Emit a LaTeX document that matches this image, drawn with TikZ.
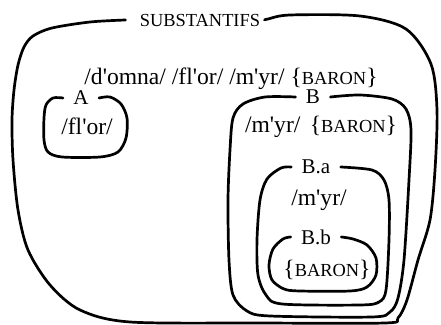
\documentclass[tikz,border=0pt]{standalone}
\usepackage{fontspec}
\setmainfont{Liberation Serif}
\usetikzlibrary{positioning}
\newcommand{\capsw}[1]{{\fontsize{9.2}{11}\selectfont #1}}
\newcommand{\ap}{\textquotesingle}

\begin{document}
\begin{tikzpicture}[
				x=0.5pt, y=-0.5pt,
				setline/.style={
					line width=1.35pt, line join=round, line cap=round
				},
				tag/.style={
					font=\fontsize{10.5}{12}\selectfont,
					inner xsep=5pt, inner ysep=0pt, text depth=0pt
				},
				member/.style={
					font=\fontsize{11.8}{14}\selectfont, inner sep=0pt
				}
				]
				\useasboundingbox (0,0) rectangle (441,325);
				
				% Substantifs
				\node[tag, inner xsep=1pt, font=\fontsize{9.2}{11}\selectfont] (subst) at (200,20) {SUBSTANTIFS};
				\node[member] (all) at (231,79) {/d\ap omna/ /fl\ap or/ /m\ap yr/ \{\capsw{BARON}\}};
				
				% A
				\node[tag] (A) at (81,98) {A};
				\node[member] (Atext) at (87,126) {/fl\ap or/};
				
				% B
				\node[tag] (B) at (313,97) {B};
				\node[member] (Btext) at (321,127) {/m\ap yr/\hspace{0.15em} \{\capsw{BARON}\}};
				
				% B.a
				\node[tag] (Ba) at (316,167) {B.a};
				\node[member] (Batext) at (319,200) {/m\ap yr/};
				
				% B.b
				\node[tag] (Bb) at (316,237) {B.b};
				\node[member] (Bbtext) at (327,270) {\{\capsw{BARON}\}};
				
				% outlines, hand drawn
				\draw[setline] plot[smooth, tension=0.5] coordinates {
					([xshift=-6pt]subst.west) (90,22) (52,28) (33,36) (24,47) (18,65)
					(14,90) (12,120) (13,160) (18,210) (28,250) (50,285) (80,310)
					(130,322) (260,323) (385,323) (398,318) (407,300) (418,260) (430,220)
					(435,170) (437,110) (431,64) (406,29) (360,16) (290,15) (268,19)
					([xshift=1pt]subst.east)};
				\draw[setline] plot[smooth, tension=0.5] coordinates {
					(A.west) (53,98) (46,105) (44,118) (44,140) (48,152) (62,157)
					(100,157) (118,152) (126,138) (127,118) (121,104) (110,97) (A.east)};
				\draw[setline] plot[smooth, tension=0.5] coordinates {
					(B.west) (265,97) (243,104) (233,118) (230,150) (228,200) (229,260)
					(233,295) (247,311) (270,316) (372,317) (390,312) (398,298) (404,260)
					(409,180) (411,130) (406,109) (392,99) (360,95) (B.east)};
				\draw[setline] plot[smooth, tension=0.5] coordinates {
					(Ba.west) (281,168) (267,179) (260,200) (257,240) (258,275) (266,295)
					(282,304) (360,305) (379,302) (386,290) (389,240) (389,200) (384,180)
					(372,170) (Ba.east)};
				\draw[setline] plot[smooth, tension=0.5] coordinates {
					(Bb.west) (283,239) (273,249) (269,265) (272,280) (284,289) (300,291)
					(350,291) (367,287) (376,275) (376,258) (367,245) (353,239) (Bb.east)};
			\end{tikzpicture}
\end{document}
